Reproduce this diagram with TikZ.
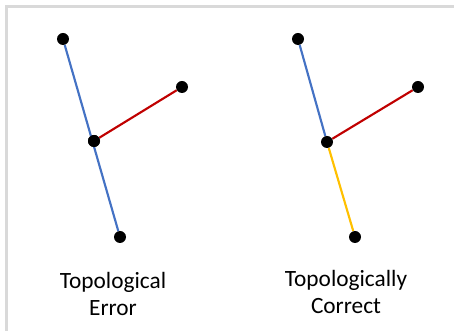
\documentclass[tikz,border=0pt]{standalone}
\usepackage{fontspec}
\setmainfont{Carlito}
\usetikzlibrary{positioning}
\definecolor{cblue}{RGB}{68,114,196}
\definecolor{cred}{RGB}{192,0,0}
\definecolor{cyellow}{RGB}{255,192,0}
\definecolor{cframe}{RGB}{217,217,217}
\tikzset{
  vtx/.style={circle, fill=black, inner sep=0pt, minimum size=9pt},
  edge/.style={line width=1.6pt},
  caption/.style={align=center, font=\fontsize{17.5}{20.5}\selectfont}
}

\begin{document}
\begin{tikzpicture}[x=0.75pt, y=-0.75pt]
        \useasboundingbox (0,0) rectangle (454,331);
        % frame
        \draw[cframe, line width=1.8pt] (6.5,331) -- (6.5,6.5) -- (454,6.5);
        % topological error
        \node[vtx] (et) at (63,39) {};
        \node[vtx] (ec) at (94,141) {};
        \node[vtx] (eb) at (120,237) {};
        \node[vtx] (er) at (182,87) {};
        \draw[edge, cblue] (et) -- (eb);
        \draw[edge, cred] (ec) -- (er);
        \node[vtx] at (ec) {};
        \node[caption] (elabel) at (113,294) {Topological\\Error};
        % topologically correct
        \node[vtx] (ct) at (298,39) {};
        \node[vtx] (cc) at (327,142) {};
        \node[vtx] (cb) at (355,237) {};
        \node[vtx] (cr) at (418,87) {};
        \draw[edge, cblue] (ct) -- (cc);
        \draw[edge, cyellow] (cc) -- (cb);
        \draw[edge, cred] (cc) -- (cr);
        \node[caption] (clabel) at (346,292) {Topologically\\Correct};
\end{tikzpicture}
\end{document}
